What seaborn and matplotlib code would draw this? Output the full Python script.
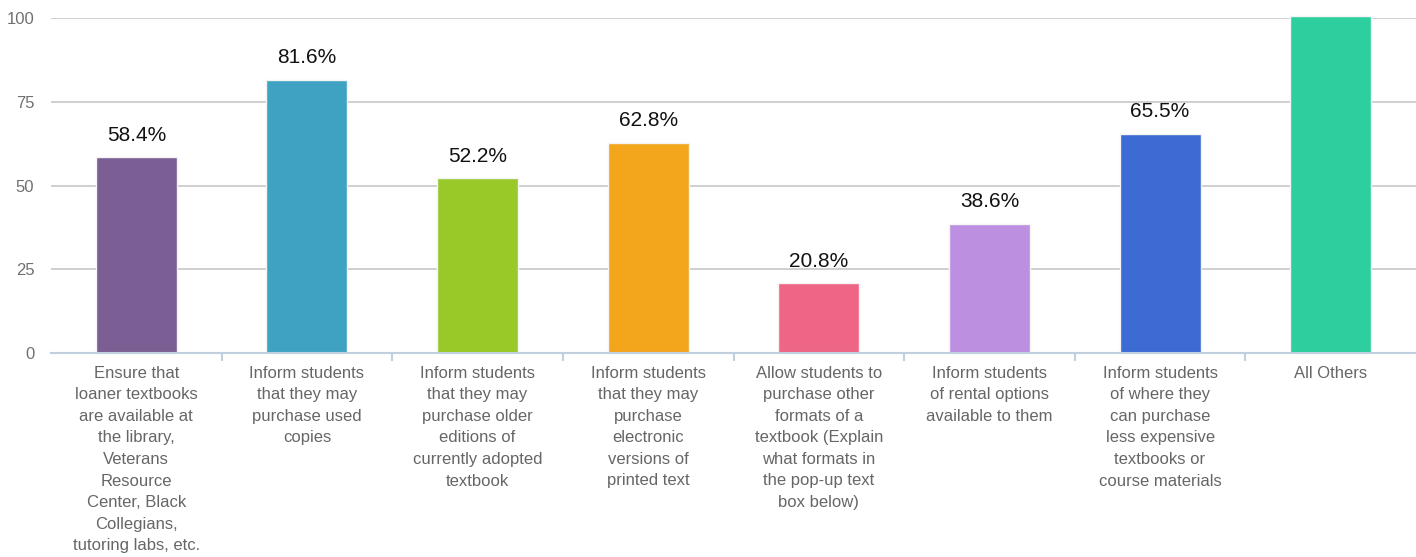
import matplotlib
matplotlib.use("Agg")
import matplotlib.pyplot as plt
import seaborn as sns
import pandas as pd
import numpy as np

categories = [
    "Ensure that\nloaner textbooks\nare available at\nthe library,\nVeterans\nResource\nCenter, Black\nCollegians,\ntutoring labs, etc.",
    "Inform students\nthat they may\npurchase used\ncopies",
    "Inform students\nthat they may\npurchase older\neditions of\ncurrently adopted\ntextbook",
    "Inform students\nthat they may\npurchase\nelectronic\nversions of\nprinted text",
    "Allow students to\npurchase other\nformats of a\ntextbook (Explain\nwhat formats in\nthe pop-up text\nbox below)",
    "Inform students\nof rental options\navailable to them",
    "Inform students\nof where they\ncan purchase\nless expensive\ntextbooks or\ncourse materials",
    "All Others",
]
values = [58.4, 81.6, 52.2, 62.8, 20.8, 38.6, 65.5, 100.5]
value_labels = ["58.4%", "81.6%", "52.2%", "62.8%", "20.8%", "38.6%", "65.5%", ""]
colors = ["#7b5e93", "#40a2c2", "#98c928", "#f3a51c", "#ef6585", "#bd8fe0", "#3c6bd3", "#2ecf9e"]
yticks = [0, 25, 50, 75, 100]

sns.set_theme(style="white")
plt.rcParams['font.family'] = ['Liberation Sans', 'DejaVu Sans']

df = pd.DataFrame({"cat": categories, "val": values})

fig = plt.figure(figsize=(14.16, 5.57), dpi=100)
ax = fig.add_axes([51/1416, 1 - 353/557, 1 - 51/1416, (353 - 18)/557])

sns.barplot(data=df, x="cat", y="val", hue="cat", palette=colors, legend=False,
            saturation=1, width=0.475, ax=ax, edgecolor="#f4f4f4", linewidth=1.0, zorder=3)

ax.set_ylim(0, 100)
ax.set_xlim(-0.5, len(categories) - 0.5)
ax.set_yticks(yticks)
ax.set_yticklabels([str(t) for t in yticks], color="#707070", fontsize=12)
ax.grid(axis="y", color="#cccccc", linewidth=1.3, zorder=0)
ax.set_axisbelow(True)
for s in ["top", "right", "left"]:
    ax.spines[s].set_visible(False)
ax.spines["bottom"].set_color("#c0d0e0")
ax.spines["bottom"].set_linewidth(1.5)
ax.spines["bottom"].set_zorder(5)
for p in ax.patches:
    p.set_clip_on(False)

ax.set_xticks(range(len(categories)))
ax.set_xticklabels(categories, fontsize=12, color="#666666", linespacing=1.55, va="top")
ax.tick_params(axis="x", which="major", bottom=True, length=0, pad=9)
ax.tick_params(axis="y", length=0, pad=12)
ax.set_xticks(np.arange(0.5, len(categories) - 0.5, 1.0), minor=True)
ax.tick_params(axis="x", which="minor", bottom=True, length=6, width=1.5,
               color="#c0d0e0", direction="out")
ax.set_xlabel("")
ax.set_ylabel("")

for i, (v, lab) in enumerate(zip(values, value_labels)):
    if lab:
        ax.text(i, v + 6.6, lab, ha="center", va="center", fontsize=15, color="#111111")

fig.savefig("out.png", dpi=100)
